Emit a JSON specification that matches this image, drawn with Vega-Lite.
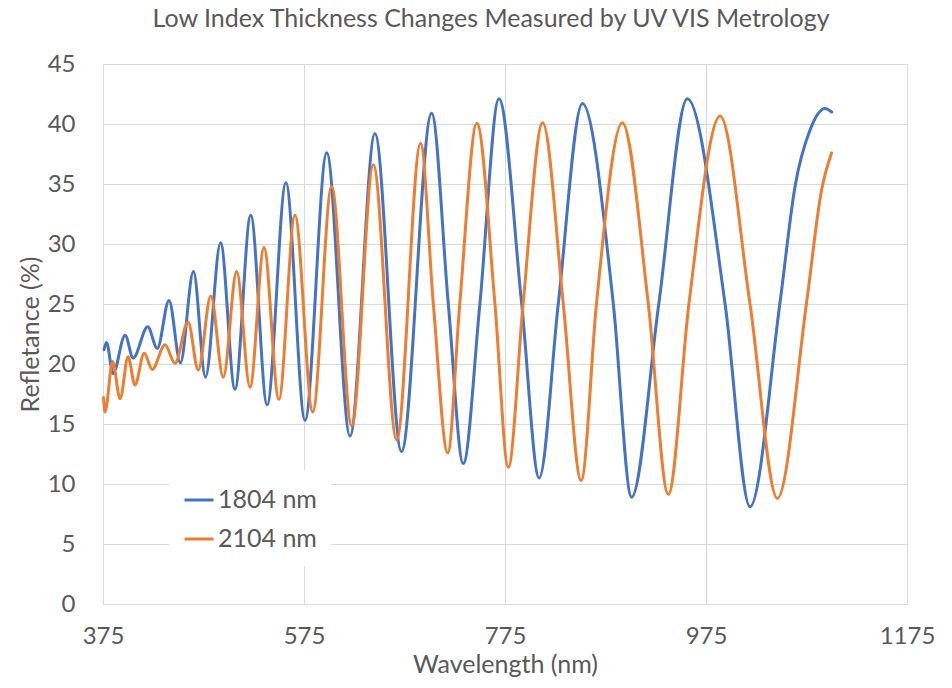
{
  "$schema": "https://vega.github.io/schema/vega-lite/v6.json",
  "autosize": {"type": "none"},
  "padding": {"left": 103, "top": 64, "right": 45, "bottom": 84},
  "width": 804,
  "height": 540,
  "background": "white",
  "title": {
    "text": "Low Index Thickness Changes Measured by UV VIS Metrology",
    "font": "Lato",
    "fontSize": 25,
    "fontWeight": "normal",
    "color": "#595959",
    "anchor": "middle",
    "offset": 20,
    "dx": -14
  },
  "config": {
    "view": {"stroke": null},
    "axis": {
      "labelFont": "Lato",
      "titleFont": "Lato",
      "labelFontSize": 24,
      "titleFontSize": 25,
      "labelColor": "#595959",
      "titleColor": "#595959",
      "titleFontWeight": "normal",
      "gridColor": "#D9D9D9",
      "gridWidth": 1,
      "domainColor": "#D9D9D9",
      "ticks": false,
      "labelFlush": false,
      "labelOverlap": false
    }
  },
  "datasets": {
    "spectra": [
      {"series": "1804 nm", "wl": 376, "r": 21.2},
      {"series": "1804 nm", "wl": 378.5, "r": 21.8},
      {"series": "1804 nm", "wl": 385, "r": 19.2},
      {"series": "1804 nm", "wl": 397, "r": 22.4},
      {"series": "1804 nm", "wl": 405, "r": 20.5},
      {"series": "1804 nm", "wl": 419.5, "r": 23.1},
      {"series": "1804 nm", "wl": 429, "r": 21.3},
      {"series": "1804 nm", "wl": 440.7, "r": 25.3},
      {"series": "1804 nm", "wl": 452, "r": 20.1},
      {"series": "1804 nm", "wl": 465, "r": 27.7},
      {"series": "1804 nm", "wl": 477, "r": 18.9},
      {"series": "1804 nm", "wl": 492, "r": 30.1},
      {"series": "1804 nm", "wl": 506.3, "r": 17.9},
      {"series": "1804 nm", "wl": 522, "r": 32.4},
      {"series": "1804 nm", "wl": 538.3, "r": 16.6},
      {"series": "1804 nm", "wl": 557, "r": 35.1},
      {"series": "1804 nm", "wl": 576, "r": 15.3},
      {"series": "1804 nm", "wl": 597.6, "r": 37.6},
      {"series": "1804 nm", "wl": 620.8, "r": 14.0},
      {"series": "1804 nm", "wl": 645.6, "r": 39.2},
      {"series": "1804 nm", "wl": 672, "r": 12.7},
      {"series": "1804 nm", "wl": 702, "r": 40.9},
      {"series": "1804 nm", "wl": 718.6, "r": 25.0},
      {"series": "1804 nm", "wl": 733.5, "r": 11.7},
      {"series": "1804 nm", "wl": 750, "r": 25.0},
      {"series": "1804 nm", "wl": 769, "r": 42.1},
      {"series": "1804 nm", "wl": 791.6, "r": 25.0},
      {"series": "1804 nm", "wl": 809, "r": 10.5},
      {"series": "1804 nm", "wl": 828, "r": 25.0},
      {"series": "1804 nm", "wl": 852, "r": 41.7},
      {"series": "1804 nm", "wl": 882.8, "r": 25.0},
      {"series": "1804 nm", "wl": 901, "r": 8.9},
      {"series": "1804 nm", "wl": 928, "r": 25.0},
      {"series": "1804 nm", "wl": 956.4, "r": 42.1},
      {"series": "1804 nm", "wl": 994, "r": 25.0},
      {"series": "1804 nm", "wl": 1018.8, "r": 8.1},
      {"series": "1804 nm", "wl": 1048.6, "r": 25.1},
      {"series": "1804 nm", "wl": 1063.6, "r": 34.8},
      {"series": "1804 nm", "wl": 1078.5, "r": 39.5},
      {"series": "1804 nm", "wl": 1093.4, "r": 41.3},
      {"series": "1804 nm", "wl": 1100, "r": 41.0},
      {"series": "2104 nm", "wl": 375.5, "r": 17.2},
      {"series": "2104 nm", "wl": 377, "r": 16.0},
      {"series": "2104 nm", "wl": 384.6, "r": 20.2},
      {"series": "2104 nm", "wl": 392, "r": 17.1},
      {"series": "2104 nm", "wl": 400, "r": 20.6},
      {"series": "2104 nm", "wl": 406.8, "r": 18.25},
      {"series": "2104 nm", "wl": 416, "r": 20.9},
      {"series": "2104 nm", "wl": 424, "r": 19.55},
      {"series": "2104 nm", "wl": 436.7, "r": 21.6},
      {"series": "2104 nm", "wl": 446.6, "r": 20.06},
      {"series": "2104 nm", "wl": 459.6, "r": 23.5},
      {"series": "2104 nm", "wl": 469.8, "r": 19.5},
      {"series": "2104 nm", "wl": 482.3, "r": 25.67},
      {"series": "2104 nm", "wl": 494.7, "r": 18.9},
      {"series": "2104 nm", "wl": 508, "r": 27.7},
      {"series": "2104 nm", "wl": 521.3, "r": 18.06},
      {"series": "2104 nm", "wl": 535.2, "r": 29.7},
      {"series": "2104 nm", "wl": 550, "r": 17.06},
      {"series": "2104 nm", "wl": 566, "r": 32.4},
      {"series": "2104 nm", "wl": 583.7, "r": 16.0},
      {"series": "2104 nm", "wl": 602.5, "r": 34.8},
      {"series": "2104 nm", "wl": 622.5, "r": 14.83},
      {"series": "2104 nm", "wl": 644, "r": 36.6},
      {"series": "2104 nm", "wl": 667.2, "r": 13.67},
      {"series": "2104 nm", "wl": 691, "r": 38.4},
      {"series": "2104 nm", "wl": 703.7, "r": 25.0},
      {"series": "2104 nm", "wl": 718, "r": 12.6},
      {"series": "2104 nm", "wl": 730, "r": 25.0},
      {"series": "2104 nm", "wl": 747, "r": 40.06},
      {"series": "2104 nm", "wl": 765, "r": 25.0},
      {"series": "2104 nm", "wl": 778.3, "r": 11.4},
      {"series": "2104 nm", "wl": 793, "r": 25.0},
      {"series": "2104 nm", "wl": 812.5, "r": 40.1},
      {"series": "2104 nm", "wl": 833, "r": 25.0},
      {"series": "2104 nm", "wl": 850.8, "r": 10.3},
      {"series": "2104 nm", "wl": 866, "r": 25.0},
      {"series": "2104 nm", "wl": 891.7, "r": 40.1},
      {"series": "2104 nm", "wl": 917.6, "r": 25.0},
      {"series": "2104 nm", "wl": 937.5, "r": 9.14},
      {"series": "2104 nm", "wl": 958, "r": 25.0},
      {"series": "2104 nm", "wl": 989, "r": 40.67},
      {"series": "2104 nm", "wl": 1018.8, "r": 25.0},
      {"series": "2104 nm", "wl": 1046, "r": 8.8},
      {"series": "2104 nm", "wl": 1075, "r": 25.06},
      {"series": "2104 nm", "wl": 1090, "r": 34.5},
      {"series": "2104 nm", "wl": 1100, "r": 37.6}
    ]
  },
  "data": {"name": "spectra"},
  "mark": {"type": "line", "interpolate": "monotone", "strokeWidth": 3, "strokeCap": "round", "strokeJoin": "round"},
  "encoding": {
    "x": {
      "field": "wl",
      "type": "quantitative",
      "scale": {"domain": [375, 1175], "nice": false, "zero": false},
      "axis": {
        "title": "Wavelength (nm)",
        "values": [375, 575, 775, 975, 1175],
        "format": "d",
        "labelPadding": 20,
        "titlePadding": 4,
        "domainColor": "#D9D9D9"
      }
    },
    "y": {
      "field": "r",
      "type": "quantitative",
      "scale": {"domain": [0, 45], "nice": false},
      "axis": {
        "title": "Refletance (%)",
        "values": [0, 5, 10, 15, 20, 25, 30, 35, 40, 45],
        "labelPadding": 28,
        "titlePadding": 4,
        "domain": true
      }
    },
    "color": {
      "field": "series",
      "type": "nominal",
      "scale": {"domain": ["1804 nm", "2104 nm"], "range": ["#4472C4", "#ED7D31"]},
      "legend": {
        "title": null,
        "orient": "none",
        "legendX": 66,
        "legendY": 406,
        "fillColor": "white",
        "padding": 14,
        "symbolType": "stroke",
        "symbolSize": 841,
        "symbolStrokeWidth": 3,
        "labelFont": "Lato",
        "labelFontSize": 25,
        "labelColor": "#595959",
        "labelOffset": 3,
        "rowPadding": 10
      }
    }
  }
}
